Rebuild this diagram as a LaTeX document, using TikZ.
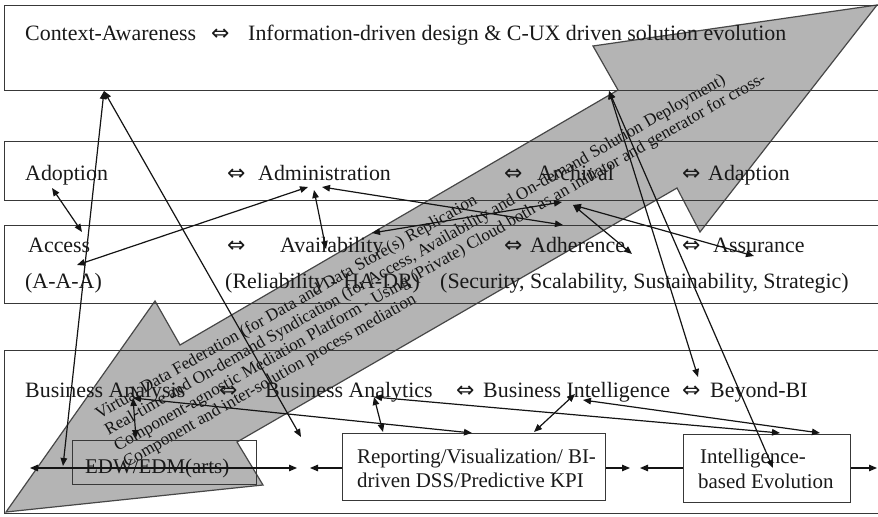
\documentclass[tikz,border=0pt]{standalone}
\usepackage{fontspec}
\setmainfont{Liberation Serif}
\newfontfamily\symfont{DejaVu Sans}
\usetikzlibrary{arrows.meta}
\newcommand\dblarr{{\symfont\fontsize{22}{22}\selectfont ⇔}}

\begin{document}
\begin{tikzpicture}[x=1bp,y=-1bp,
  panel/.style={draw=black!78, line width=1.4bp, inner sep=0pt, anchor=north west},
  lbl/.style={anchor=base west, inner sep=0pt, font=\fontsize{22}{26}\selectfont, text=black!90},
  sublbl/.style={anchor=base west, inner sep=0pt, font=\fontsize{21}{24}\selectfont, text=black!90},
  bigarrow/.style={draw=black!72, line width=1.2bp, fill={rgb,255:red,180;green,180;blue,180}},
  flowtext/.style={rotate=29.7, anchor=west, align=left, inner sep=0pt,
    font=\fontsize{17.2}{18.6}\selectfont, text=black!92},
  tipA/.tip={Triangle[length=8bp,width=6.5bp]},
  link/.style={draw=black!92, line width=1.2bp, tipA-tipA},
  linkto/.style={draw=black!92, line width=1.2bp, -tipA}
]
\useasboundingbox (0,0) rectangle (878,517);
\fill[white] (0,0) rectangle (878,517);

% broad two-headed band across the layers
\draw[bigarrow] (6,512) -- (155,301) -- (180,345) -- (618,90) -- (593,46)
  -- (877,5) -- (700,232) -- (677,188) -- (237,442) -- (263,485) -- cycle;
\node[flowtext] (flow) at (111,440) {Virtual Data Federation (for Data and Data Store(s) Replication\\
Real-time and On-demand Syndication (for Access, Availability and On-demand Solution Deployment)\\
Component-agnostic Mediation Platform - Using (Private) Cloud both as an initiator and generator for cross-\\
Component and inter-solution process mediation};

% layers
\node[panel, minimum width=874bp, minimum height=85bp] (ctx) at (4,5) {};
\node[panel, minimum width=874bp, minimum height=59bp] (adm) at (4,141) {};
\node[panel, minimum width=874bp, minimum height=78bp] (acc) at (4,225) {};
\node[panel, minimum width=874bp, minimum height=163bp] (bus) at (4,350) {};
\node[panel, minimum width=184bp, minimum height=44bp] (edw) at (72,440) {};
\node[panel, minimum width=263bp, minimum height=67bp] (rep) at (342,433) {};
\node[panel, minimum width=167bp, minimum height=68bp] (ibe) at (683,434) {};

% layer texts
\node[lbl] (c1) at (25,41) {Context-Awareness};
\node[lbl] (c2) at (211,41) {\dblarr};
\node[lbl] (c3) at (248,41) {Information-driven design \& C-UX driven solution evolution};

\node[lbl] (a1) at (25,181) {Adoption};
\node[lbl] (a2) at (227,181) {\dblarr};
\node[lbl] (a3) at (258,181) {Administration};
\node[lbl] (a4) at (504,181) {\dblarr};
\node[lbl] (a5) at (537,181) {Archival};
\node[lbl] (a6) at (682,181) {\dblarr};
\node[lbl] (a7) at (708,181) {Adaption};

\node[lbl] (b1) at (28,253) {Access};
\node[lbl] (b2) at (227,253) {\dblarr};
\node[lbl] (b3) at (280,253) {Availability};
\node[lbl] (b4) at (504,253) {\dblarr};
\node[lbl] (b5) at (530,253) {Adherence};
\node[lbl] (b6) at (682,253) {\dblarr};
\node[lbl] (b7) at (713,253) {Assurance};
\node[lbl] (b8) at (25,289) {(A-A-A)};
\node[lbl] (b9) at (225,289) {(Reliability - HA-DR)};
\node[lbl] (b10) at (440,289) {(Security, Scalability, Sustainability, Strategic)};

\node[lbl] (d1) at (25,397) {Business Analysis};
\node[lbl] (d2) at (219,397) {\dblarr};
\node[lbl] (d3) at (265,397) {Business Analytics};
\node[lbl] (d4) at (456,397) {\dblarr};
\node[lbl] (d5) at (483,397) {Business Intelligence};
\node[lbl] (d6) at (682,397) {\dblarr};
\node[lbl] (d7) at (710,397) {Beyond-BI};

\node[sublbl] (e1) at (85,473) {EDW/EDM(arts)};
\node[sublbl] (r1) at (357,463) {Reporting/Visualization/ BI-};
\node[sublbl] (r2) at (357,487) {driven DSS/Predictive KPI};
\node[sublbl] (i1) at (700,463) {Intelligence-};
\node[sublbl] (i2) at (698,488) {based Evolution};

% connector ends
\coordinate (ctxA) at (104,91);
\coordinate (ctxB) at (609,91);
\coordinate (adoE) at (52,188);
\coordinate (accN) at (82,232);
\coordinate (accS) at (77,265);
\coordinate (admA) at (308,187);
\coordinate (admB) at (314,190);
\coordinate (admC) at (322,187);
\coordinate (avaN) at (326,249);
\coordinate (avaE) at (372,233);
\coordinate (arcA) at (562,202);
\coordinate (arcB) at (563,225);
\coordinate (arcC) at (573,205);
\coordinate (adhP) at (632,254);
\coordinate (asuP) at (754,256);
\coordinate (bbiP) at (698,377);
\coordinate (ibeP) at (773,468);
\coordinate (edwP) at (63,466);
\coordinate (gapP) at (301,437);
\coordinate (basP) at (133,398);
\coordinate (edwN) at (136,438);
\coordinate (banP) at (374,397);
\coordinate (repA) at (383,432);
\coordinate (repB) at (472,433);
\coordinate (biP) at (575,394);
\coordinate (biQ) at (583,400);
\coordinate (repC) at (534,432);
\coordinate (ibeA) at (780,433);
\coordinate (ibeB) at (820,433);
\coordinate (hL) at (30,468);
\coordinate (hR) at (297,468);
\coordinate (rL) at (310,468);
\coordinate (rR) at (630,468);
\coordinate (iL) at (640,468);
\coordinate (iR) at (877,468);

% connectors
\draw[link] (ctxA) -- (edwP);
\draw[link] (ctxA) -- (gapP);
\draw[link] (adoE) -- (accN);
\draw[link] (accS) -- (admA);
\draw[link] (avaN) -- (admB);
\draw[link] (admC) -- (arcB);
\draw[link] (avaE) -- (arcA);
\draw[link] (arcC) -- (adhP);
\draw[link] (arcC) -- (asuP);
\draw[link] (ctxB) -- (bbiP);
\draw[link] (ctxB) -- (ibeP);
\draw[link] (basP) -- (edwN);
\draw[link] (basP) -- (repB);
\draw[link] (banP) -- (repA);
\draw[link] (banP) -- (ibeA);
\draw[link] (biP) -- (repC);
\draw[link] (biQ) -- (ibeB);
\draw[link] (hL) -- (hR);
\draw[linkto] (rep.west |- hL) -- (rL);
\draw[linkto] (rep.east |- hL) -- (rR);
\draw[linkto] (ibe.west |- hL) -- (iL);
\draw[linkto] (ibe.east |- hL) -- (iR);
\end{tikzpicture}
\end{document}
